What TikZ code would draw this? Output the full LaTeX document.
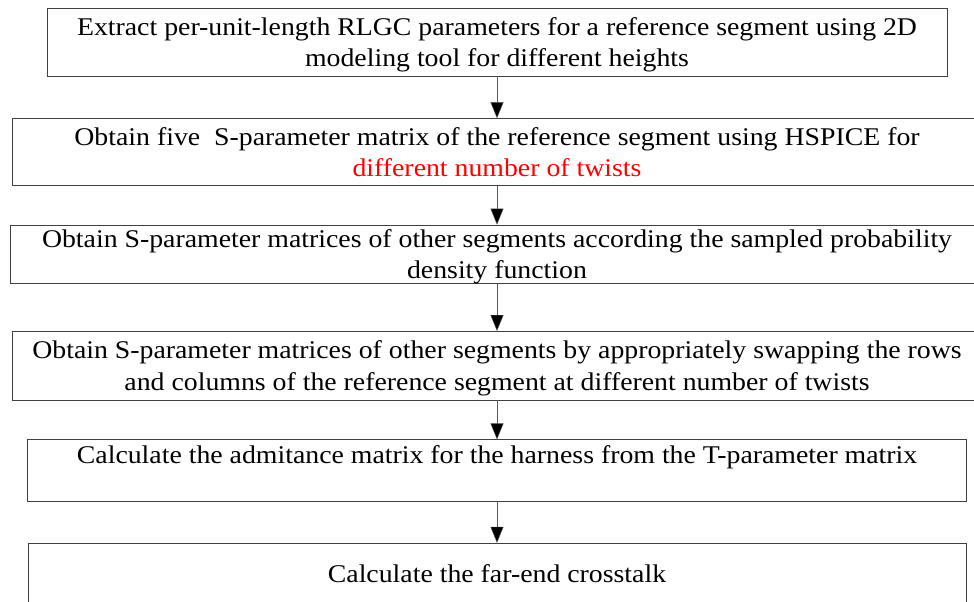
\documentclass[tikz,border=0pt]{standalone}
\usepackage{fontspec}
\setmainfont{Liberation Serif}[FakeStretch=1.09]
\usetikzlibrary{positioning,arrows.meta}

\begin{document}
\begin{tikzpicture}[
			x=1pt, y=1pt,
			block/.style={
				draw=black!75,
				rectangle,
				thin,
				inner xsep=2pt,
				inner ysep=0pt,
				align=center,
				text depth=0pt,
				font=\fontsize{25.5}{31.5}\selectfont
			},
			arrow/.style={
				draw=black!65,
				thin,
				-{Triangle[width=13pt,length=16pt,fill=black]}
			}
			]
			\useasboundingbox (0,0) rectangle (974,-602);
			
			% Nodes
			\node[block, minimum width=900pt, minimum height=68pt] at (497,-42) (rlgc)
				{Extract per-unit-length RLGC parameters for a reference segment using 2D\\modeling tool for different heights};
			\node[block, minimum width=970pt, minimum height=67pt, below=42pt of rlgc] (sparam)
				{Obtain five\ \ S-parameter matrix of the reference segment using HSPICE for\\\textcolor{red}{different number of twists}};
			\node[block, minimum width=974pt, minimum height=58pt, below=39pt of sparam] (pdf)
				{Obtain S-parameter matrices of other segments according the sampled probability\\density function};
			\node[block, minimum width=970pt, minimum height=69pt, below=48pt of pdf] (swap)
				{Obtain S-parameter matrices of other segments by appropriately swapping the rows\\and columns of the reference segment at different number of twists};
			\node[block, minimum width=939pt, minimum height=62pt, below=39pt of swap] (admit)
				{Calculate the admitance matrix for the harness from the T-parameter matrix\\\strut};
			\node[block, minimum width=938pt, minimum height=62pt, below=41pt of admit] (fext)
				{Calculate the far-end crosstalk};
			
			% Arrows
			\draw[arrow] (rlgc) -- (sparam);
			\draw[arrow] (sparam) -- (pdf);
			\draw[arrow] (pdf) -- (swap);
			\draw[arrow] (swap) -- (admit);
			\draw[arrow] (admit) -- (fext);
			
		\end{tikzpicture}
\end{document}
